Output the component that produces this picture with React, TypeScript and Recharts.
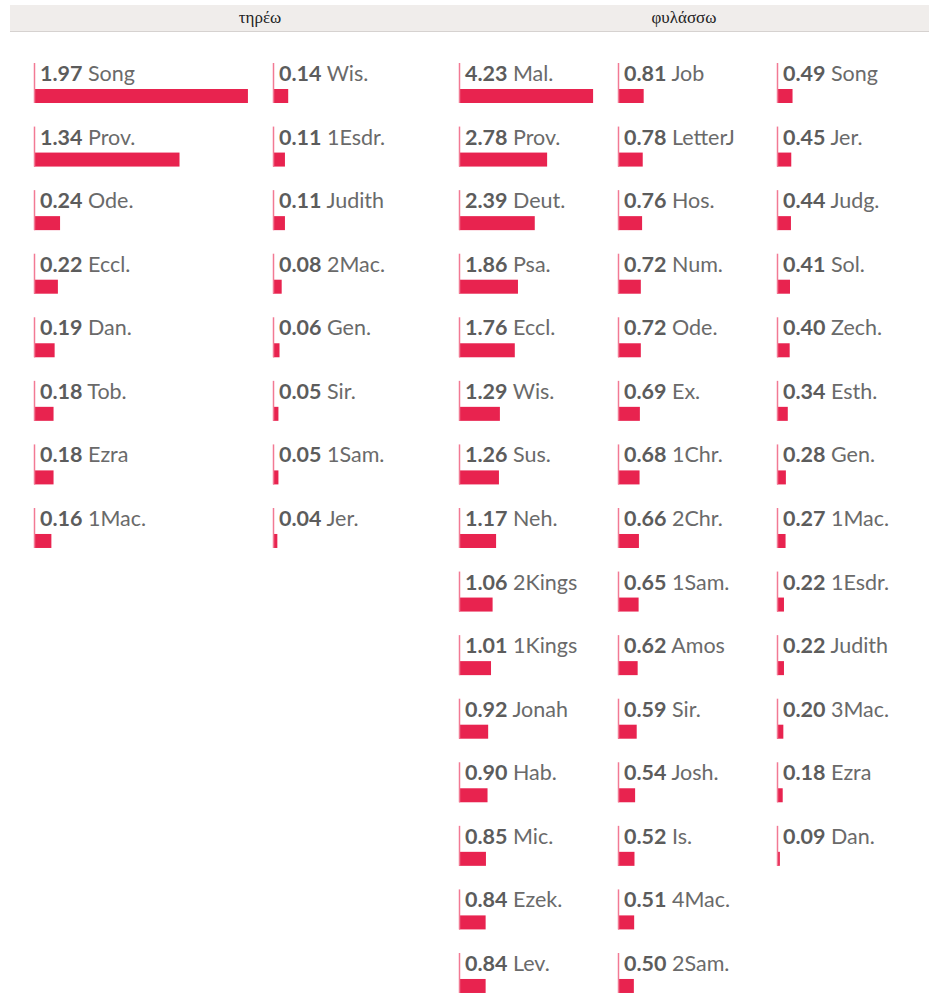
import React from 'react';
import { BarChart, Bar, XAxis, YAxis } from 'recharts';

// τηρέω
const tereoNames1 = ['Song', 'Prov.', 'Ode.', 'Eccl.', 'Dan.', 'Tob.', 'Ezra', '1Mac.'];
const tereoValues1 = [1.97, 1.34, 0.24, 0.22, 0.19, 0.18, 0.18, 0.16];
const tereoNames2 = ['Wis.', '1Esdr.', 'Judith', '2Mac.', 'Gen.', 'Sir.', '1Sam.', 'Jer.'];
const tereoValues2 = [0.14, 0.11, 0.11, 0.08, 0.06, 0.05, 0.05, 0.04];

// φυλάσσω
const phylassoNames1 = ['Mal.', 'Prov.', 'Deut.', 'Psa.', 'Eccl.', 'Wis.', 'Sus.', 'Neh.', '2Kings', '1Kings', 'Jonah', 'Hab.', 'Mic.', 'Ezek.', 'Lev.'];
const phylassoValues1 = [4.23, 2.78, 2.39, 1.86, 1.76, 1.29, 1.26, 1.17, 1.06, 1.01, 0.92, 0.9, 0.85, 0.84, 0.84];
const phylassoNames2 = ['Job', 'LetterJ', 'Hos.', 'Num.', 'Ode.', 'Ex.', '1Chr.', '2Chr.', '1Sam.', 'Amos', 'Sir.', 'Josh.', 'Is.', '4Mac.', '2Sam.'];
const phylassoValues2 = [0.81, 0.78, 0.76, 0.72, 0.72, 0.69, 0.68, 0.66, 0.65, 0.62, 0.59, 0.54, 0.52, 0.51, 0.5];
const phylassoNames3 = ['Song', 'Jer.', 'Judg.', 'Sol.', 'Zech.', 'Esth.', 'Gen.', '1Mac.', '1Esdr.', 'Judith', '3Mac.', 'Ezra', 'Dan.'];
const phylassoValues3 = [0.49, 0.45, 0.44, 0.41, 0.4, 0.34, 0.28, 0.27, 0.22, 0.22, 0.2, 0.18, 0.09];

const ROW = 63.57;
const TOP = 63.5;
const TOP_PAD = 30;
const PAD = 4;
const TEXT_ROOM = 140;
const BAR_COLOR = '#e8234f';
const LINE_COLOR = '#f27a94';

const BookBar = (props: any) => {
  const { x, y, width, height, payload } = props;
  return (
    <g>
      <rect x={x} y={y} width={Math.max(width, 0)} height={height} fill={BAR_COLOR} />
      <line x1={x + 0.5} x2={x + 0.5} y1={y - 26} y2={y + height} stroke={LINE_COLOR} strokeWidth={1.5} />
      <text x={x + 6} y={y - 8} fontFamily="Lato, sans-serif" fontSize={21.5}>
        <tspan fontWeight={700} fill="#5c5c5c">{payload.value.toFixed(2)}</tspan>
        <tspan fill="#6a6a6a"> {payload.name}</tspan>
      </text>
    </g>
  );
};

const Column = ({ names, values, left, max, pxPerUnit }: { names: string[]; values: number[]; left: number; max: number; pxPerUnit: number }) => {
  const data = names.map((name, i) => ({ name, value: values[i] }));
  const plotWidth = max * pxPerUnit;
  const width = Math.max(plotWidth, TEXT_ROOM) + PAD;
  return (
    <div style={{ position: 'absolute', left: left - PAD, top: TOP - TOP_PAD }}>
      <BarChart
        width={width}
        height={ROW * names.length + TOP_PAD}
        data={data}
        layout="vertical"
        margin={{ top: TOP_PAD, right: width - PAD - plotWidth, bottom: 0, left: PAD }}
      >
        <XAxis type="number" domain={[0, max]} hide />
        <YAxis type="category" dataKey="name" hide />
        <Bar dataKey="value" barSize={14} shape={<BookBar />} isAnimationActive={false} />
      </BarChart>
    </div>
  );
};

export default function App() {
  return (
    <div style={{ position: 'absolute', left: 0, top: 0, width: 929, height: 996, background: '#fff' }}>
      <div
        style={{
          position: 'absolute',
          left: 10,
          top: 5,
          width: 919,
          height: 26,
          background: '#f0edeb',
          borderBottom: '1px solid #d6d2d0',
        }}
      />
      <div style={{ position: 'absolute', left: 160, top: 8, width: 200, textAlign: 'center', fontFamily: '"Liberation Serif", serif', fontSize: 17, color: '#222' }}>
        τηρέω
      </div>
      <div style={{ position: 'absolute', left: 584, top: 8, width: 200, textAlign: 'center', fontFamily: '"Liberation Serif", serif', fontSize: 17, color: '#222' }}>
        φυλάσσω
      </div>
      <Column names={tereoNames1} values={tereoValues1} left={34} max={2.2} pxPerUnit={108.6} />
      <Column names={tereoNames2} values={tereoValues2} left={273} max={2.2} pxPerUnit={108.6} />
      <Column names={phylassoNames1} values={phylassoValues1} left={459} max={5} pxPerUnit={31.7} />
      <Column names={phylassoNames2} values={phylassoValues2} left={618} max={5} pxPerUnit={31.7} />
      <Column names={phylassoNames3} values={phylassoValues3} left={777} max={5} pxPerUnit={31.7} />
    </div>
  );
}
